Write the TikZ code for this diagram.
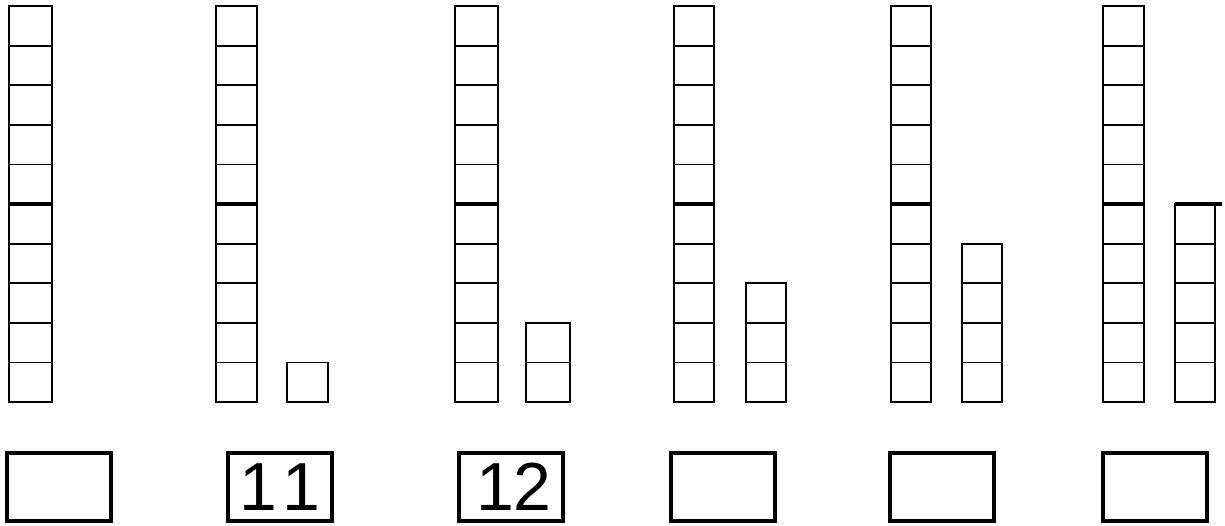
\documentclass[tikz,border=0pt]{standalone}
\usepackage{fontspec}
\setmainfont{Liberation Sans}
\begin{document}
\begin{tikzpicture}[x=1pt,y=-1pt,
  cell/.style={draw=black,line width=1.8pt},
  tenline/.style={draw=black,line width=4.5pt},
  answer/.style={draw=black,line width=3.6pt,minimum width=104pt,minimum height=68pt,inner sep=0pt,font=\fontsize{68}{68}\selectfont}]
\useasboundingbox (0,0) rectangle (1225,525);
% tall columns of ten
\foreach \l/\r in {9/52,216/257,455/498,674/714,891/931,1103/1144}{
  \foreach \i in {0,...,9}{
    \draw[cell] (\l,{6+39.6*\i}) rectangle (\r,{6+39.6*(\i+1)});
  }
  \draw[tenline] (\l,204) -- (\r,204);
}
% short columns of ones
\foreach \l/\r/\n in {287/328/1,526/570/2,746/786/3,962/1002/4,1175/1215/5}{
  \foreach \i in {1,...,\n}{
    \draw[cell] (\l,{402-39.6*\i}) rectangle (\r,{402-39.6*(\i-1)});
  }
}
\draw[tenline] (1175,204) -- (1222,204);
% answer boxes
\node[answer] (b1) at (59,487) {};
\node[answer] (b2) at (280,487) {1\kern6pt1};
\node[answer] (b3) at (511,487) {\kern6pt12};
\node[answer] (b4) at (723,487) {};
\node[answer] (b5) at (942,487) {};
\node[answer] (b6) at (1155,487) {};
\end{tikzpicture}
\end{document}
